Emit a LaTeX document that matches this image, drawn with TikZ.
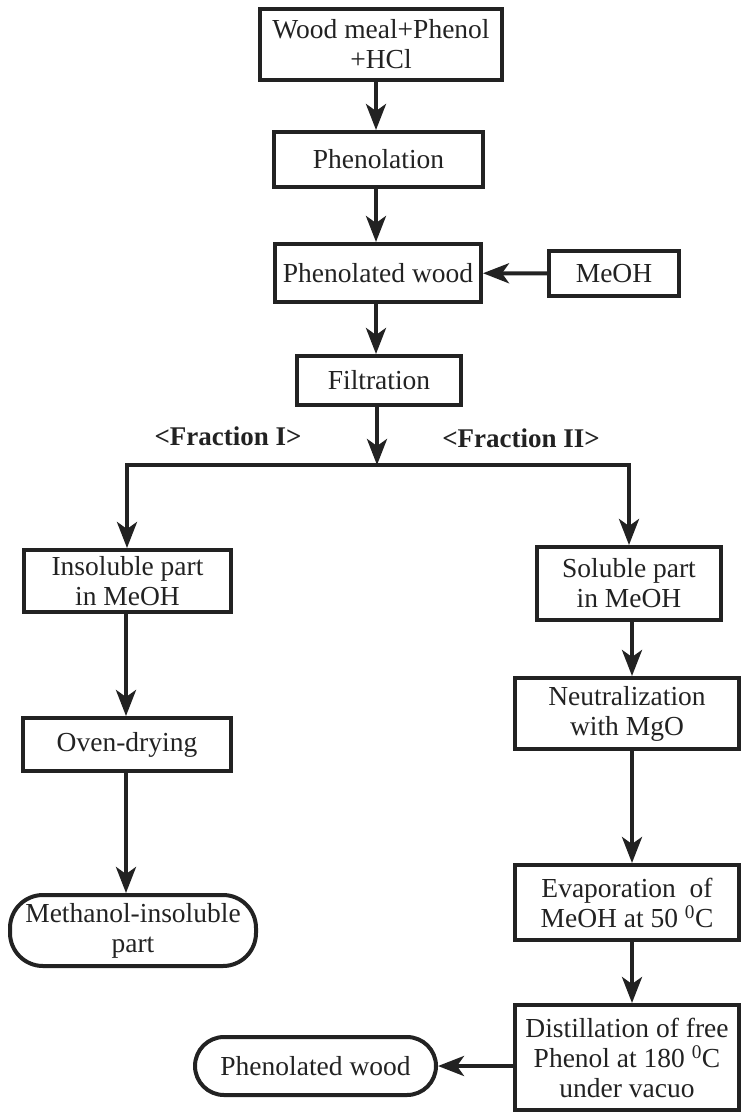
\documentclass[tikz,border=0pt]{standalone}
\usepackage{fontspec}
\setmainfont{Liberation Serif}
\usetikzlibrary{arrows.meta,calc}
\definecolor{ink}{HTML}{222222}
\begin{document}
\begin{tikzpicture}[x=1pt,y=-1pt,
  box/.style={draw=ink, line width=4pt, rectangle, align=center, inner sep=0pt, text=ink,
              font=\fontsize{27.5}{30}\selectfont},
  arr/.style={draw=ink, line width=4pt, -{Stealth[length=26pt,width=20pt,inset=7pt]}},
  lab/.style={font=\fontsize{27}{30}\selectfont\bfseries, text=ink, inner sep=0pt}]
\useasboundingbox (0,0) rectangle (741,1115);
% top column
\node[box, minimum width=242pt, minimum height=71pt] (wood) at (381,44.5) {Wood meal+Phenol\\+HCl};
\node[box, minimum width=209pt, minimum height=55pt] (phen) at (378.5,159.5) {Phenolation};
\node[box, minimum width=206pt, minimum height=58pt] (pwood) at (378,273) {Phenolated wood};
\node[box, minimum width=130pt, minimum height=45pt] (meoh) at (614,273.5) {MeOH};
\node[box, minimum width=164pt, minimum height=49pt] (filt) at (379,380.5) {Filtration};
\node[lab] (f1) at (228,436) {<Fraction I>};
\node[lab] (f2) at (521,438) {<Fraction II>};
% left column
\node[box, minimum width=207pt, minimum height=62pt] (insol) at (127.5,581) {Insoluble part\\in MeOH};
\node[box, minimum width=208pt, minimum height=53pt] (oven) at (127,744.5) {Oven-drying};
\node[box, rounded corners=33pt, minimum width=246pt, minimum height=71pt] (minsol) at (133,930.5) {Methanol-insoluble\\part};
% right column
\node[box, minimum width=184pt, minimum height=73pt] (sol) at (629,583.5) {Soluble part\\in MeOH};
\node[box, minimum width=224pt, minimum height=71pt] (neut) at (627,713.5) {Neutralization\\with MgO};
\node[box, minimum width=224pt, minimum height=75pt] (evap) at (627,902.5) {Evaporation\ \ of\\MeOH at 50 \textsuperscript{0}C};
\node[box, minimum width=224pt, minimum height=105pt] (dist) at (627,1057.5) {Distillation of free\\Phenol at 180 \textsuperscript{0}C\\under vacuo};
\node[box, rounded corners=29pt, minimum width=241pt, minimum height=58pt] (pwood2) at (315.5,1066) {Phenolated wood};
% helper coordinates
\coordinate (cc) at (376,0);
\coordinate (jn) at (377,465);
\coordinate (jl) at (127,465);
\coordinate (jr) at (629,465);
\coordinate (lc) at (126,0);
\coordinate (rc) at (632,0);
% connectors
\draw[arr] (wood.south -| cc) -- (phen.north -| cc);
\draw[arr] (phen.south -| cc) -- (pwood.north -| cc);
\draw[arr] (meoh) -- (pwood);
\draw[arr] (pwood.south -| cc) -- (filt.north -| cc);
\draw[arr] (filt.south -| jn) -- (jn);
\draw[draw=ink, line width=4pt, line cap=rect] (jl) -- (jr);
\draw[arr] (jl) -- (jl |- insol.north);
\draw[arr] (jr) -- (jr |- sol.north);
\draw[arr] (insol.south -| lc) -- (oven.north -| lc);
\draw[arr] (oven.south -| lc) -- (minsol.north -| lc);
\draw[arr] (sol.south -| rc) -- (neut.north -| rc);
\draw[arr] (neut.south -| rc) -- (evap.north -| rc);
\draw[arr] (evap.south -| rc) -- (dist.north -| rc);
\draw[arr] (dist.west |- pwood2) -- (pwood2.east);
\end{tikzpicture}
\end{document}
